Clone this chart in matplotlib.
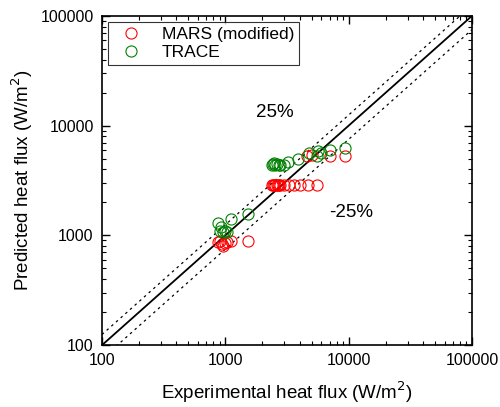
import matplotlib
matplotlib.use('Agg')
import matplotlib.pyplot as plt
import numpy as np

plt.rcParams['font.family'] = ['Liberation Sans', 'DejaVu Sans']

# MARS (modified): experimental vs predicted heat flux (W/m2)
MARS_EXP = [870, 900, 940, 960, 1000, 1030, 1110, 1530,
            2400, 2450, 2500, 2550, 2600, 2650, 2700, 2800, 3000,
            3300, 3600, 4000, 4700, 5500,
            4600, 5000, 7000, 9300]
MARS_PRED = [870, 880, 830, 800, 860, 870, 880, 880,
             2850, 2900, 2850, 2900, 2880, 2850, 2900, 2900, 2880,
             2900, 2900, 2900, 2900, 2900,
             5300, 5400, 5300, 5300]

# TRACE
TRACE_EXP = [880, 900, 920, 950, 990, 1030, 1110, 1530,
             2400, 2450, 2500, 2550, 2600, 2700, 2800, 3000, 3200,
             3900, 4800, 5500, 5600, 6000, 7000, 9300]
TRACE_PRED = [1300, 1100, 1180, 1080, 1100, 1080, 1400, 1580,
              4400, 4500, 4600, 4400, 4500, 4350, 4400, 4400, 4700,
              5000, 5600, 5300, 5900, 5600, 6000, 6200]

LIMITS = [100, 100000]
BAND = 0.25


def main():
    fig = plt.figure(figsize=(5.0, 4.07), dpi=100)
    ax = fig.add_axes([0.204, 0.152, 0.74, 0.809])

    ref = np.array(LIMITS, dtype=float)
    ax.plot(ref, ref, color='black', lw=1.3)
    ax.plot(ref, ref * (1 + BAND), color='black', lw=0.9, ls=(0, (2, 3)))
    ax.plot(ref, ref * (1 - BAND), color='black', lw=0.9, ls=(0, (2, 3)))

    ax.plot(MARS_EXP, MARS_PRED, 'o', mfc='none', mec='red', ms=8,
            mew=0.8, label='MARS (modified)')
    ax.plot(TRACE_EXP, TRACE_PRED, 'o', mfc='none', mec='green', ms=8,
            mew=0.8, label='TRACE')

    ax.set_xscale('log')
    ax.set_yscale('log')
    ax.set_xlim(LIMITS)
    ax.set_ylim(LIMITS)
    ax.xaxis.set_major_formatter(matplotlib.ticker.FormatStrFormatter('%d'))
    ax.yaxis.set_major_formatter(matplotlib.ticker.FormatStrFormatter('%d'))
    ax.tick_params(which='both', direction='in', top=True, right=True,
                   labelsize=11.5, pad=6)
    ax.tick_params(which='major', length=6, width=1)
    ax.tick_params(which='minor', length=3, width=0.8)
    for s in ax.spines.values():
        s.set_linewidth(1.2)

    ax.set_xlabel('Experimental heat flux (W/m$^2$)', fontsize=13.5,
                  labelpad=8)
    ax.set_ylabel('Predicted heat flux (W/m$^2$)', fontsize=13.5,
                  labelpad=4)

    ax.text(2530, 13300, '25%', fontsize=13.5, ha='center', va='center')
    ax.text(10450, 1630, '-25%', fontsize=13.5, ha='center', va='center')

    leg = ax.legend(loc='upper left', fontsize=12.5, fancybox=False,
                    edgecolor='black', handletextpad=0.8, labelspacing=0.15,
                    borderaxespad=0.35, borderpad=0.3)
    leg.get_frame().set_linewidth(0.8)

    fig.savefig('out.png', dpi=100)


if __name__ == '__main__':
    main()
